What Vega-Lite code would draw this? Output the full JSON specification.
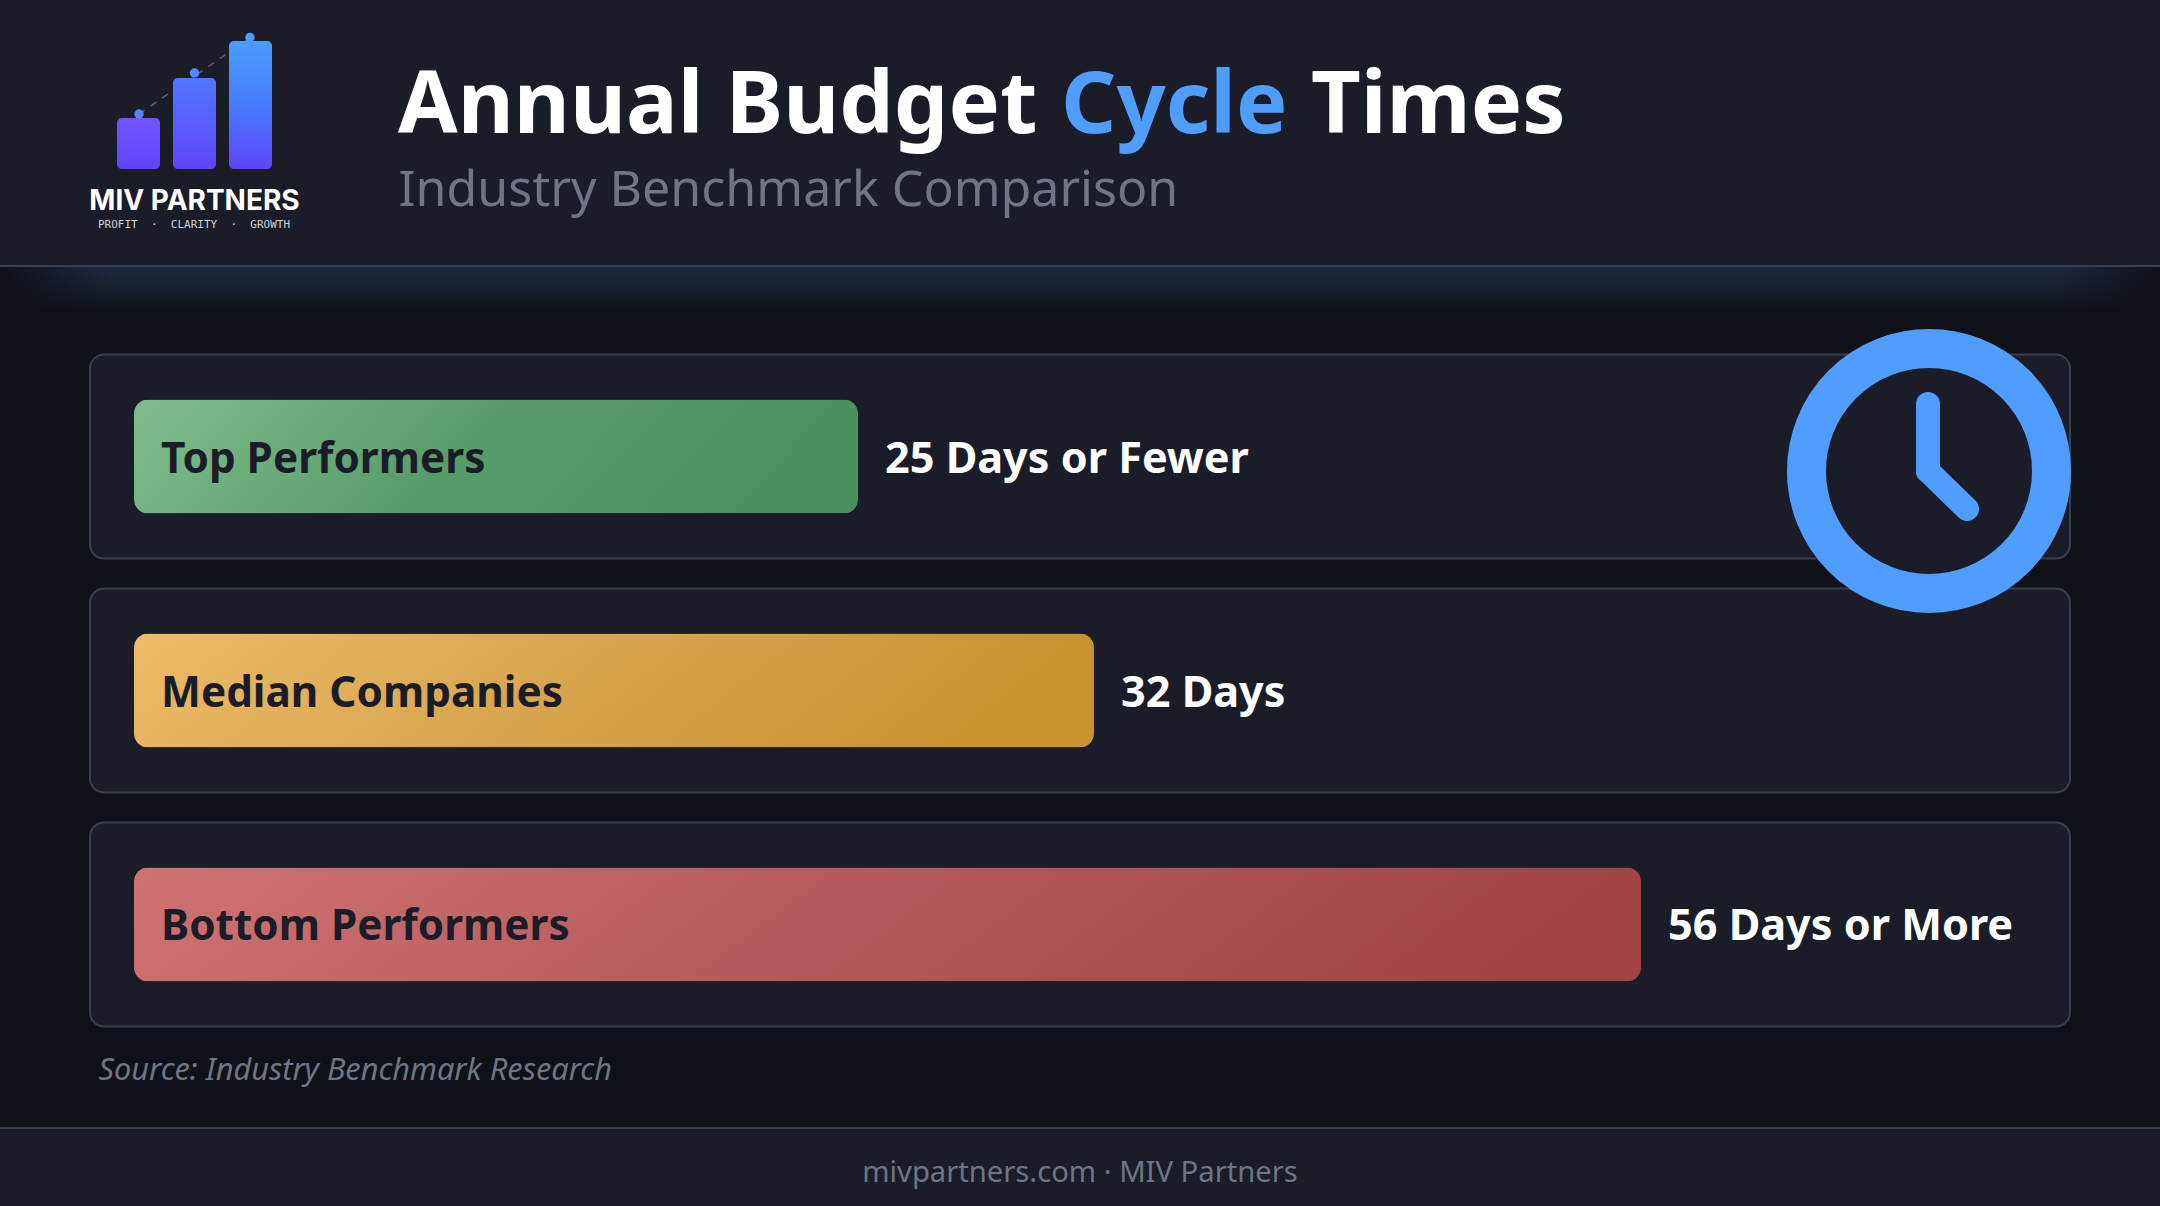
{
"$schema":"https://vega.github.io/schema/vega-lite/v6.json",
"width":2160,"height":1206,
"autosize":{"type":"fit","contains":"padding"},
"padding":0,
"background":"#0f1118",
"config":{"view":{"stroke":null}},
"datasets":{"benchmarks":[
{"group":"Top Performers","days":25,"label":"25 Days or Fewer"},
{"group":"Median Companies","days":32,"label":"32 Days"},
{"group":"Bottom Performers","days":56,"label":"56 Days or More"}
]},
"data":{"values":[{"chrome":1}]},
"layer":[
{"mark":{"type":"rect","fill":"#1a1d28"},"encoding":{"x":{"value":0},"x2":{"value":2160},"y":{"value":0},"y2":{"value":266}}},
{"mark":{"type":"rect","fill":"#1a1d28"},"encoding":{"x":{"value":0},"x2":{"value":2160},"y":{"value":1128},"y2":{"value":1206}}},
{"mark":{"type":"rect","fill":{"gradient":"linear","x1":0,"y1":0,"x2":0,"y2":1,"stops":[{"offset":0,"color":"#1f2b43"},{"offset":1,"color":"#0f1118"}]}},"encoding":{"x":{"value":0},"x2":{"value":2160},"y":{"value":266},"y2":{"value":312}}},
{"mark":{"type":"rect","fill":{"gradient":"linear","x1":0,"y1":0,"x2":1,"y2":0,"stops":[{"offset":0,"color":"#0f1118"},{"offset":1,"color":"rgba(15,17,24,0)"}]}},"encoding":{"x":{"value":0},"x2":{"value":110},"y":{"value":267},"y2":{"value":312}}},
{"mark":{"type":"rect","fill":{"gradient":"linear","x1":1,"y1":0,"x2":0,"y2":0,"stops":[{"offset":0,"color":"#0f1118"},{"offset":1,"color":"rgba(15,17,24,0)"}]}},"encoding":{"x":{"value":2050},"x2":{"value":2160},"y":{"value":267},"y2":{"value":312}}},
{"mark":{"type":"rect","fill":"#3a3f50"},"encoding":{"x":{"value":0},"x2":{"value":2160},"y":{"value":265},"y2":{"value":267}}},
{"mark":{"type":"rect","fill":"#3a3f50"},"encoding":{"x":{"value":0},"x2":{"value":2160},"y":{"value":1127},"y2":{"value":1129}}},

{"data":{"name":"benchmarks"},
 "mark":{"type":"rect","fill":"#1a1d28","stroke":"#3a3f50","strokeWidth":2,"cornerRadius":14},
 "encoding":{"x":{"value":90},"x2":{"value":2070},
  "y":{"field":"group","type":"nominal","sort":null,"axis":null,"scale":{"range":[354.5,1026.5],"paddingInner":0.128,"paddingOuter":0}}}},

{"data":{"name":"benchmarks"},"transform":[{"filter":"datum.days==25"}],
 "mark":{"type":"bar","height":114,"cornerRadius":14,"color":{"gradient":"linear","x1":0,"y1":0,"x2":1,"y2":0.15,"stops":[{"offset":0,"color":"#82bd8d"},{"offset":0.5,"color":"#589c6a"},{"offset":1,"color":"#4a9160"}]}},
 "encoding":{"x":{"field":"days","type":"quantitative","axis":null,"scale":{"domain":[0,25,32,56],"range":[134,858,1094,1641],"nice":false,"zero":false}},"y":{"field":"group","type":"nominal","sort":null,"axis":null}}},
{"data":{"name":"benchmarks"},"transform":[{"filter":"datum.days==32"}],
 "mark":{"type":"bar","height":114,"cornerRadius":14,"color":{"gradient":"linear","x1":0,"y1":0,"x2":1,"y2":0.15,"stops":[{"offset":0,"color":"#eebc68"},{"offset":0.5,"color":"#d7a54c"},{"offset":1,"color":"#c8922c"}]}},
 "encoding":{"x":{"field":"days","type":"quantitative","axis":null},"y":{"field":"group","type":"nominal","sort":null,"axis":null}}},
{"data":{"name":"benchmarks"},"transform":[{"filter":"datum.days==56"}],
 "mark":{"type":"bar","height":114,"cornerRadius":14,"color":{"gradient":"linear","x1":0,"y1":0,"x2":1,"y2":0.1,"stops":[{"offset":0,"color":"#d07272"},{"offset":0.5,"color":"#b55a5c"},{"offset":1,"color":"#a04444"}]}},
 "encoding":{"x":{"field":"days","type":"quantitative","axis":null},"y":{"field":"group","type":"nominal","sort":null,"axis":null}}},

{"data":{"name":"benchmarks"},
 "mark":{"type":"text","align":"left","baseline":"middle","font":"Noto Sans","fontWeight":"bold","fontSize":42.3,"fill":"#1a1d28","dx":27,"dy":3},
 "encoding":{"x":{"datum":0,"type":"quantitative","axis":null},"y":{"field":"group","type":"nominal","sort":null,"axis":null},"text":{"field":"group"}}},
{"data":{"name":"benchmarks"},
 "mark":{"type":"text","align":"left","baseline":"middle","font":"Noto Sans","fontWeight":"bold","fontSize":43.2,"fill":"#ffffff","dx":27,"dy":3},
 "encoding":{"x":{"field":"days","type":"quantitative","axis":null},"y":{"field":"group","type":"nominal","sort":null,"axis":null},"text":{"field":"label"}}},

{"mark":{"type":"point","shape":"circle","filled":true,"fill":"#1a1d28","stroke":"#4f9dff","strokeWidth":39,"opacity":1,"size":60025},"encoding":{"x":{"value":1929},"y":{"value":471}}},
{"mark":{"type":"rule","stroke":"#4f9dff","strokeWidth":24,"strokeCap":"round"},"encoding":{"x":{"value":1928},"x2":{"value":1928},"y":{"value":404},"y2":{"value":471}}},
{"mark":{"type":"rule","stroke":"#4f9dff","strokeWidth":24,"strokeCap":"round"},"encoding":{"x":{"value":1928},"x2":{"value":1967},"y":{"value":471},"y2":{"value":509}}},

{"mark":{"type":"rule","stroke":"#5b6172","strokeWidth":1.5,"strokeDash":[7,7]},"encoding":{"x":{"value":139},"x2":{"value":250},"y":{"value":114},"y2":{"value":38}}},
{"mark":{"type":"rect","cornerRadius":5,"fill":{"gradient":"linear","x1":0,"y1":1,"x2":0,"y2":0,"stops":[{"offset":0,"color":"#6244fb"},{"offset":1,"color":"#6f55ff"}]}},"encoding":{"x":{"value":117},"x2":{"value":160},"y":{"value":118},"y2":{"value":169}}},
{"mark":{"type":"rect","cornerRadius":5,"fill":{"gradient":"linear","x1":0,"y1":1,"x2":0,"y2":0,"stops":[{"offset":0,"color":"#6244fb"},{"offset":1,"color":"#5078ff"}]}},"encoding":{"x":{"value":173},"x2":{"value":216},"y":{"value":78},"y2":{"value":169}}},
{"mark":{"type":"rect","cornerRadius":5,"fill":{"gradient":"linear","x1":0,"y1":1,"x2":0,"y2":0,"stops":[{"offset":0,"color":"#6244fb"},{"offset":0.5,"color":"#467cfb"},{"offset":1,"color":"#4a9cff"}]}},"encoding":{"x":{"value":229},"x2":{"value":272},"y":{"value":41},"y2":{"value":169}}},
{"mark":{"type":"point","shape":"circle","filled":true,"fill":"#5b7fff","opacity":1,"size":90},"encoding":{"x":{"value":139},"y":{"value":114}}},
{"mark":{"type":"point","shape":"circle","filled":true,"fill":"#4f8aff","opacity":1,"size":90},"encoding":{"x":{"value":194.5},"y":{"value":73}}},
{"mark":{"type":"point","shape":"circle","filled":true,"fill":"#4a9cff","opacity":1,"size":90},"encoding":{"x":{"value":250},"y":{"value":37.5}}},
{"mark":{"type":"text","align":"center","baseline":"alphabetic","font":"Inter","fontWeight":"bold","fontSize":28,"fill":"#ffffff"},"encoding":{"x":{"value":194.5},"y":{"value":210},"text":{"value":"MIV PARTNERS"}}},
{"mark":{"type":"text","align":"center","baseline":"alphabetic","font":"DejaVu Sans Mono","fontSize":11,"fill":"#d0d3da"},"encoding":{"x":{"value":194},"y":{"value":228},"text":{"value":"PROFIT\u00a0\u00a0·\u00a0\u00a0CLARITY\u00a0\u00a0·\u00a0\u00a0GROWTH"}}},

{"mark":{"type":"text","align":"left","baseline":"alphabetic","font":"Noto Sans","fontWeight":"bold","fontSize":86.3,"fill":"#ffffff"},"encoding":{"x":{"value":398},"y":{"value":133},"text":{"value":"Annual Budget"}}},
{"mark":{"type":"text","align":"left","baseline":"alphabetic","font":"Noto Sans","fontWeight":"bold","fontSize":86.3,"fill":"#4f9dff"},"encoding":{"x":{"value":1061},"y":{"value":133},"text":{"value":"Cycle"}}},
{"mark":{"type":"text","align":"left","baseline":"alphabetic","font":"Noto Sans","fontWeight":"bold","fontSize":86.3,"fill":"#ffffff"},"encoding":{"x":{"value":1311},"y":{"value":133},"text":{"value":"Times"}}},
{"mark":{"type":"text","align":"left","baseline":"alphabetic","font":"Noto Sans","fontSize":50.1,"fill":"#6f7583"},"encoding":{"x":{"value":398.5},"y":{"value":206},"text":{"value":"Industry Benchmark Comparison"}}},
{"mark":{"type":"text","align":"left","baseline":"alphabetic","font":"Noto Sans","fontStyle":"italic","fontSize":30.7,"fill":"#6f7583"},"encoding":{"x":{"value":98.5},"y":{"value":1080},"text":{"value":"Source: Industry Benchmark Research"}}},
{"mark":{"type":"text","align":"center","baseline":"alphabetic","font":"Noto Sans","fontSize":29.2,"fill":"#6f7583"},"encoding":{"x":{"value":1080},"y":{"value":1182},"text":{"value":"mivpartners.com · MIV Partners"}}}
]
}
